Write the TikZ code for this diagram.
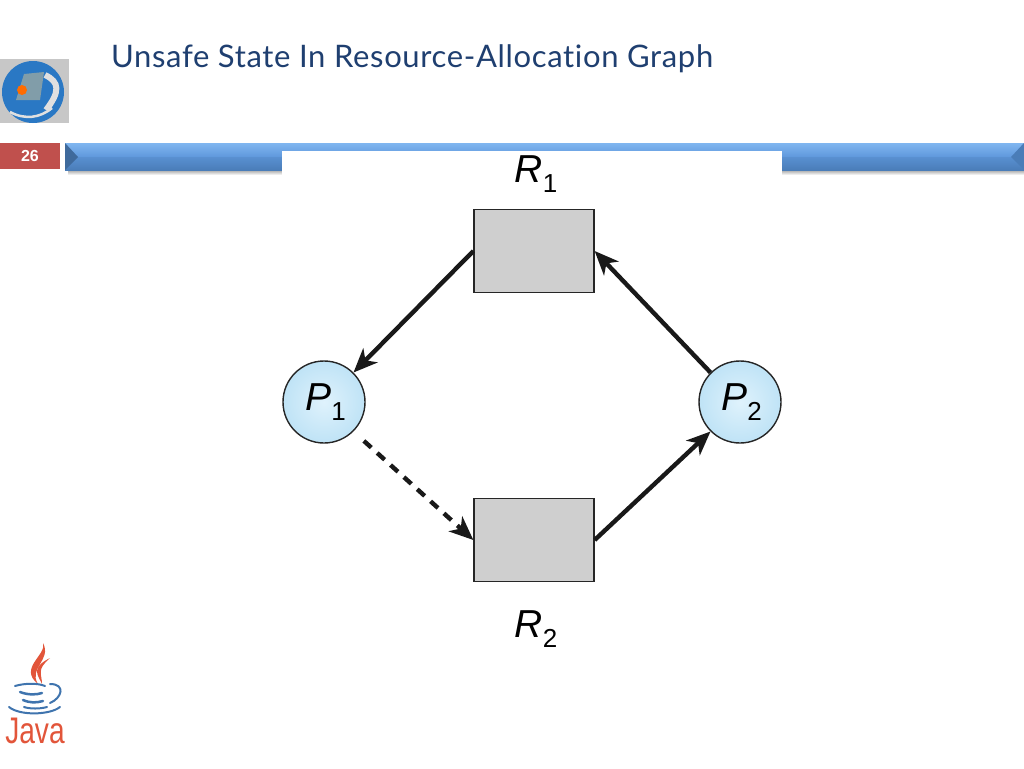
\documentclass[tikz,border=0pt]{standalone}
\usepackage{fontspec}
\setmainfont{Liberation Sans}
\newfontfamily\titlefont[LetterSpace=2.1,Ligatures=NoCommon]{Lato}
\usetikzlibrary{arrows.meta,positioning,shadings}
\definecolor{titleblue}{HTML}{1F3F70}
\definecolor{barlight}{HTML}{80B6F0}
\definecolor{barmid}{HTML}{5F98DC}
\definecolor{bardark}{HTML}{4A7DB8}
\definecolor{pagered}{HTML}{C0504D}
\definecolor{javared}{HTML}{E2553A}
\definecolor{javablue}{HTML}{3F74AE}
\definecolor{globeblue}{HTML}{2A78C4}
\definecolor{procinner}{HTML}{DFF2FC}
\definecolor{procouter}{HTML}{BFE3F6}
\begin{document}
\begin{tikzpicture}[
  x=1pt,y=-1pt,
  proc/.style={circle,draw=black!85,line width=1.4pt,minimum size=82pt,inner sep=0pt,
    inner color=procinner,outer color=procouter,font=\fontsize{39}{39}\selectfont},
  res/.style={draw=black!85,line width=1.3pt,minimum width=120pt,minimum height=83pt,
    inner sep=0pt,fill=black!19},
  reslabel/.style={inner sep=0pt,xshift=2pt,font=\fontsize{39}{39}\selectfont},
  edge/.style={-{Stealth[length=24pt,width=20pt,inset=7pt]},line width=4.4pt,black!90},
  flame/.style={fill=javared},
  cup/.style={javablue,line width=2pt,line cap=round}
]
  \useasboundingbox (0,0) rectangle (1024,768);
  \fill[white] (0,0) rectangle (1024,768);

  % header band
  \path[top color=black!35,bottom color=white] (68,170) rectangle (1024,175);
  \path[top color=barlight,bottom color=barmid] (65,143) rectangle (1024,157);
  \path[top color=barmid!70!bardark,bottom color=bardark] (65,157) rectangle (1024,170);
  \fill[bardark!85!black] (65,143) -- (78,157) -- (65,170) -- cycle;
  \fill[bardark] (1024,143) -- (1011,157) -- (1024,170) -- cycle;
  \fill[white] (282,151) rectangle (782,768);
  \node[fill=pagered,text=white,minimum width=60pt,minimum height=26pt,inner sep=0pt,
    font=\fontsize{16}{16}\bfseries\selectfont] (page) at (30,156) {26};
  \node[anchor=west,inner sep=0pt,text=titleblue,font=\titlefont\fontsize{31}{31}\selectfont]
    (title) at (111,59) {Unsafe State In Resource-Allocation Graph};

  % globe picture
  \fill[black!22] (0,59) rectangle (69,123);
  \fill[globeblue] (33,92) circle (31);
  \fill[cyan!25!gray] (24,74) -- (44,72) -- (40,100) -- (16,100) -- cycle;
  \fill[orange!85!red] (22,90) circle (5);
  \draw[black!12,line width=6pt] (45,75) .. controls (60,82) and (60,92) .. (46,110);
  \draw[black!12,line width=2.5pt] (10,112) .. controls (25,120) and (40,118) .. (52,108);

  % java logo
  \fill[flame] (43,643) .. controls (47,655) and (18,668) .. (38,684)
    .. controls (28,668) and (52,660) .. (43,643) -- cycle;
  \fill[flame] (50,658) .. controls (30,668) and (38,675) .. (42,684)
    .. controls (42,674) and (36,670) .. (50,658) -- cycle;
  \draw[cup] (15,686) .. controls (25,683) and (38,683) .. (45,686);
  \draw[cup] (50,684) .. controls (66,684) and (62,698) .. (50,703);
  \draw[cup,line width=2.5pt] (20,692) .. controls (28,695) and (36,695) .. (42,693);
  \draw[cup,line width=2.5pt] (23,700) .. controls (30,703) and (36,703) .. (43,701);
  \draw[cup] (24,707) .. controls (30,709) and (40,709) .. (47,707);
  \draw[cup] (9,707) .. controls (20,716) and (50,715) .. (60,707);
  \node[inner sep=0pt,text=javared,xscale=.76,font=\fontsize{37}{37}\selectfont] (java) at (35,731) {Java};

  % graph
  \node[proc] (proc1) at (324,402) {\hspace{3pt}\textit{P}\raisebox{-.5ex}{\fontsize{26}{26}\selectfont 1}};
  \node[proc] (proc2) at (740,402) {\hspace{3pt}\textit{P}\raisebox{-.5ex}{\fontsize{26}{26}\selectfont 2}};
  \node[res] (res1) at (534,251) {};
  \node[res] (res2) at (534,540) {};
  \node[reslabel,above=16pt of res1] (res1label) {\textit{R}\raisebox{-.5ex}{\fontsize{26}{26}\selectfont 1}};
  \node[reslabel,below=28pt of res2] (res2label) {\textit{R}\raisebox{-.5ex}{\fontsize{26}{26}\selectfont 2}};

  \draw[edge] (res1.west) -- (proc1.north east);
  \draw[edge] (proc2.north west) -- (res1.east);
  \draw[edge] (res2.east) -- (proc2.south west);
  \draw[edge,dash pattern=on 10pt off 8pt,shorten <=14pt] (proc1.south east) -- (res2.west);
\end{tikzpicture}
\end{document}
